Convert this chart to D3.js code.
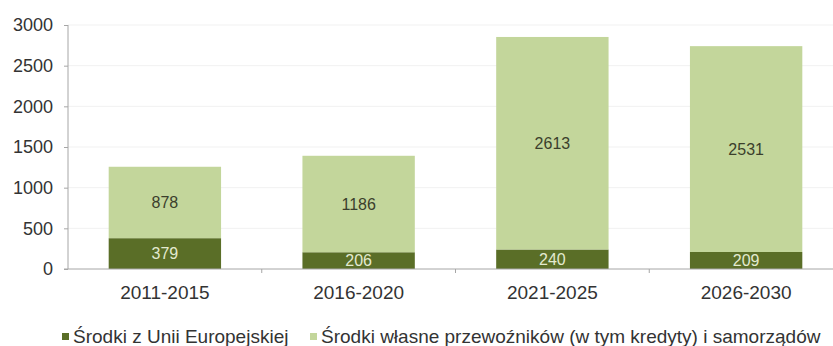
<!DOCTYPE html>
<html>
<head>
<meta charset="utf-8">
<script src="https://cdn.jsdelivr.net/npm/d3@7"></script>
<style>
  body { margin: 0; background: #fff; }
  svg { display: block; font-family: Arial, "Liberation Sans", sans-serif; }
</style>
</head>
<body>
<div id="graph"></div>
<script>
var categories = ['2011-2015', '2016-2020', '2021-2025', '2026-2030'];
var euFunds = [379, 206, 240, 209];
var ownFunds = [878, 1186, 2613, 2531];
var seriesNames = ['Środki z Unii Europejskiej', 'Środki własne przewoźników (w tym kredyty) i samorządów'];
var yTicks = [0, 500, 1000, 1500, 2000, 2500, 3000];

var colors = ['#5a6e27', '#c3d69b'];
var labelColors = ['#e3ead0', '#3b3f2c'];

var width = 833, height = 346;
var plotLeft = 68, plotRight = 843, plotTop = 25, plotBottom = 269;

var rows = categories.map(function(c, i){
  return {cat: c, eu: euFunds[i], own: ownFunds[i]};
});
var stacked = d3.stack().keys(['eu', 'own'])(rows);

var xScale = d3.scaleBand().domain(categories).range([plotLeft, plotRight])
  .paddingInner(0.42).paddingOuter(0.21);
var yScale = d3.scaleLinear().domain([0, 3000]).range([plotBottom, plotTop]);

var vis = d3.select('#graph').append('svg')
  .attr('width', width).attr('height', height);

// faint gridlines
vis.append('g').selectAll('line').data(yTicks.slice(1)).enter()
  .append('line')
  .attr('x1', plotLeft).attr('x2', width)
  .attr('y1', function(d){return yScale(d)})
  .attr('y2', function(d){return yScale(d)})
  .attr('stroke', '#f1f1f1').attr('stroke-width', 1);

// bars
var layers = vis.selectAll('g.layer').data(stacked).enter()
  .append('g').attr('class', 'layer')
  .attr('fill', function(d, i){return colors[i]});

layers.selectAll('rect').data(function(d){return d}).enter()
  .append('rect')
  .attr('x', function(d){return xScale(d.data.cat)})
  .attr('width', xScale.bandwidth())
  .attr('y', function(d){return yScale(d[1])})
  .attr('height', function(d){return yScale(d[0]) - yScale(d[1])});

// value labels
stacked.forEach(function(layer, li){
  vis.append('g').selectAll('text').data(layer).enter()
    .append('text')
    .attr('x', function(d){return xScale(d.data.cat) + xScale.bandwidth()/2})
    .attr('y', function(d){return yScale((d[0] + d[1])/2)})
    .attr('dy', '0.36em')
    .attr('text-anchor', 'middle')
    .attr('font-size', '16px')
    .attr('fill', labelColors[li])
    .text(function(d){return d[1] - d[0]});
});

// y axis
var yAxis = d3.axisLeft(yScale).tickValues(yTicks).tickSize(4).tickPadding(11)
  .tickFormat(d3.format('d'));
var yg = vis.append('g').attr('transform', 'translate(' + plotLeft + ',0)').call(yAxis);
yg.select('.domain').attr('stroke', '#a6a6a6').attr('d', 'M0,' + plotTop + 'V' + plotBottom);
yg.selectAll('.tick line').attr('stroke', '#a6a6a6');
yg.selectAll('.tick text').attr('font-size', '18px').attr('fill', '#333')
  .attr('font-family', 'Arial, "Liberation Sans", sans-serif');

// x axis
var xg = vis.append('g').attr('transform', 'translate(0,' + plotBottom + ')');
xg.append('line').attr('x1', plotLeft - 4).attr('x2', width)
  .attr('stroke', '#a6a6a6');
xg.selectAll('line.tk').data(categories.slice(1)).enter()
  .append('line').attr('class', 'tk')
  .attr('x1', function(d){return xScale(d) - xScale.step()*xScale.paddingInner()/2})
  .attr('x2', function(d){return xScale(d) - xScale.step()*xScale.paddingInner()/2})
  .attr('y1', 0).attr('y2', 4)
  .attr('stroke', '#a6a6a6');
xg.selectAll('text').data(categories).enter()
  .append('text')
  .attr('x', function(d){return xScale(d) + xScale.bandwidth()/2})
  .attr('y', 30)
  .attr('text-anchor', 'middle')
  .attr('font-size', '19px')
  .attr('fill', '#333')
  .text(function(d){return d});

// legend
var legendX = [62, 310];
var legend = vis.append('g').selectAll('g').data(seriesNames).enter()
  .append('g')
  .attr('transform', function(d, i){return 'translate(' + legendX[i] + ',333)'});
legend.append('rect').attr('width', 7).attr('height', 7)
  .attr('fill', function(d, i){return colors[i]});
legend.append('text').attr('x', 11).attr('y', 10)
  .attr('font-size', '19px').attr('fill', '#333')
  .text(function(d){return d});
</script>
</body>
</html>
